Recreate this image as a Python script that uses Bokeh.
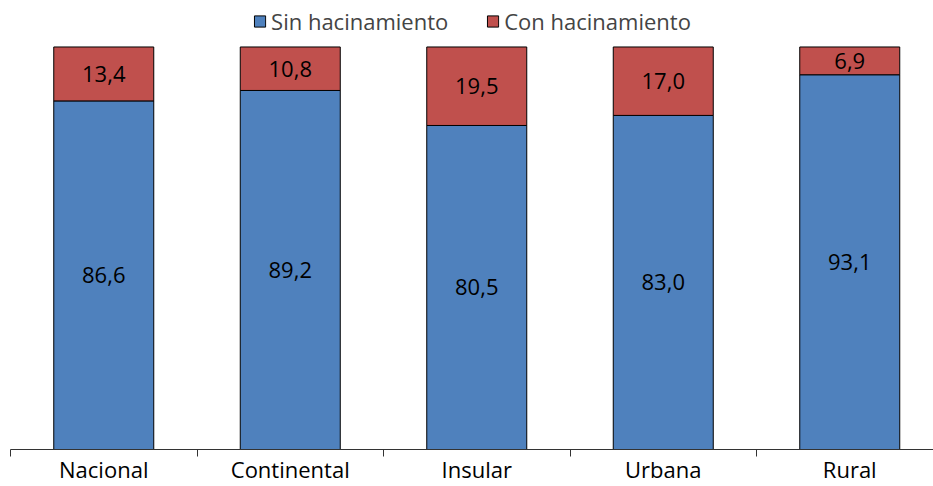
from bokeh.plotting import figure
from bokeh.models import ColumnDataSource, Range1d, FixedTicker, Legend, LegendItem, CustomJSTickFormatter
from bokeh.embed import file_html
from bokeh.resources import INLINE
from bokeh.core.properties import value

categories = ["Nacional", "Continental", "Insular", "Urbana", "Rural"]
sin_hacinamiento = [86.6, 89.2, 80.5, 83.0, 93.1]
con_hacinamiento = [13.4, 10.8, 19.5, 17.0, 6.9]
series_names = ["Sin hacinamiento", "Con hacinamiento"]

FONT = "Open Sans"
BLUE = "#4f81bd"
RED = "#c0504d"

def fmt(v):
    return f"{v:.1f}".replace(".", ",")

xs = [i + 0.5 for i in range(len(categories))]
totals = [s + c for s, c in zip(sin_hacinamiento, con_hacinamiento)]
src = ColumnDataSource(dict(
    x=xs,
    sin=sin_hacinamiento,
    con_top=totals,
    sin_mid=[s / 2 for s in sin_hacinamiento],
    con_mid=[s + c / 2 for s, c in zip(sin_hacinamiento, con_hacinamiento)],
    sin_lbl=[fmt(v) for v in sin_hacinamiento],
    con_lbl=[fmt(v) for v in con_hacinamiento],
))

W = 933
H = 486
LEFT = 10
BOTTOM = 32
FW = W - LEFT
FH = H - BOTTOM
SLOT = 186.5
BAR_PX = FH - 47  # pixels for 100 %
p = figure(width=W, height=H, output_backend="svg", toolbar_location=None,
           x_range=Range1d(0, FW / SLOT), y_range=Range1d(0, 100 * FH / BAR_PX),
           y_axis_location=None, min_border_left=LEFT, min_border_right=0,
           min_border_top=0, min_border_bottom=BOTTOM)
p.outline_line_color = None
p.grid.visible = False
p.background_fill_color = "white"

bw = 100 / SLOT
r_sin = p.vbar(x="x", bottom=0, top="sin", width=bw, source=src,
               fill_color=BLUE, line_color="black", line_width=1)
r_con = p.vbar(x="x", bottom="sin", top="con_top", width=bw, source=src,
               fill_color=RED, line_color="black", line_width=1)

for col_y, col_t in (("sin_mid", "sin_lbl"), ("con_mid", "con_lbl")):
    p.text(x="x", y=col_y, text=col_t, source=src, text_align="center",
           text_baseline="middle", text_font=value(FONT), text_font_size="22px",
           text_color="black")

ax = p.xaxis[0]
ax.ticker = FixedTicker(ticks=xs, minor_ticks=list(range(len(categories) + 1)))
ax.formatter = CustomJSTickFormatter(args=dict(labels=categories),
                                     code="return labels[Math.floor(tick)] || '';")
ax.major_tick_out = 0
ax.major_tick_in = 0
ax.minor_tick_out = 7
ax.minor_tick_in = 0
ax.minor_tick_line_color = "#333333"
ax.axis_line_color = "#333333"
ax.major_label_text_font = FONT
ax.major_label_text_font_size = "22px"
ax.major_label_text_line_height = 0.7
ax.major_label_text_color = "black"
ax.major_label_standoff = -3

legend = Legend(items=[LegendItem(label=series_names[0], renderers=[r_sin]),
                       LegendItem(label=series_names[1], renderers=[r_con])],
                orientation="horizontal", location="top_center",
                label_text_font=FONT, label_text_font_size="22px",
                glyph_width=14, glyph_height=14, label_standoff=5, spacing=37,
                padding=10, margin=6, border_line_color=None,
                background_fill_alpha=0)
p.add_layout(legend)

open("out.html", "w").write(file_html(p, INLINE))
